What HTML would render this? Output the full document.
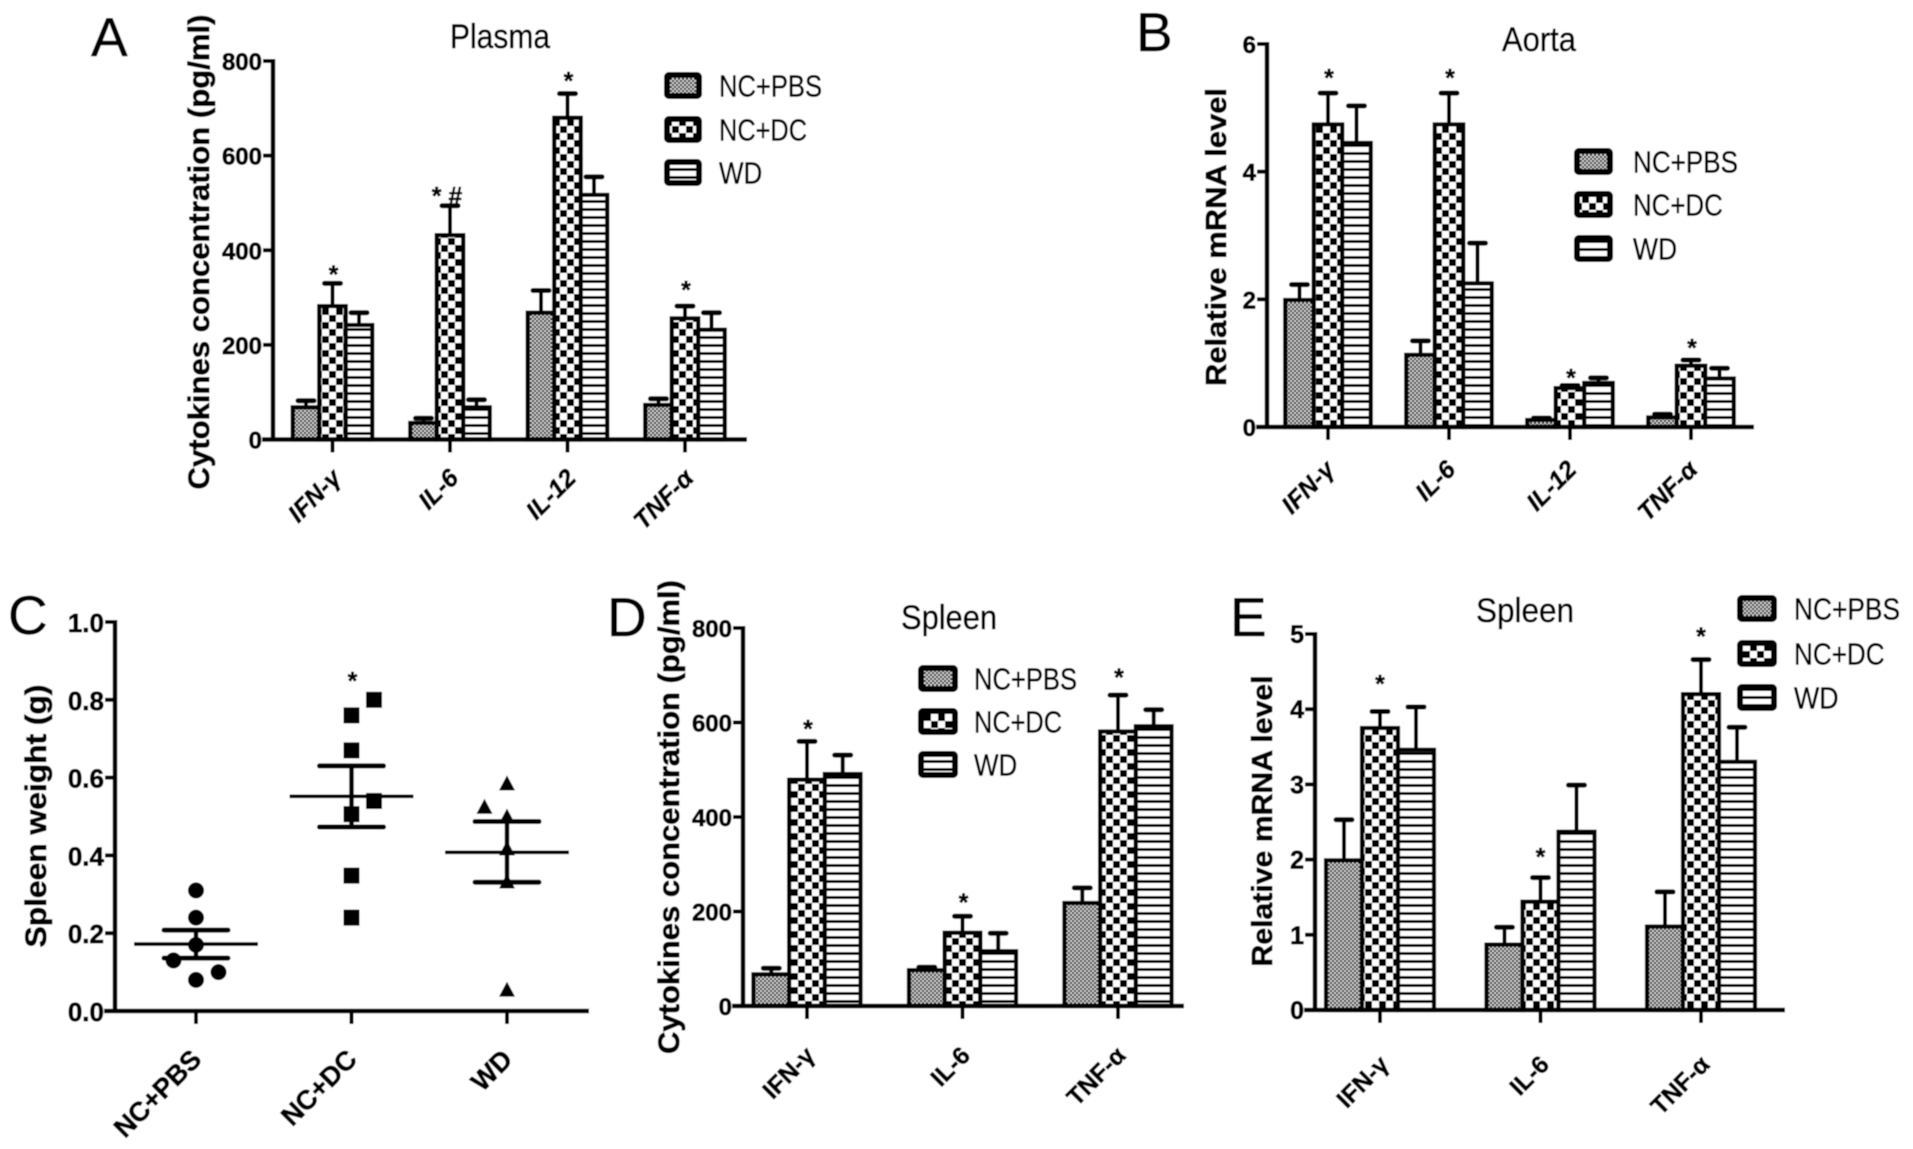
<!DOCTYPE html>
<html lang="en">
<head>
<meta charset="utf-8">
<title>Cytokine and spleen measurements</title>
<style>
html,body{margin:0;padding:0;background:#fff;width:1913px;height:1149px;overflow:hidden}
svg{display:block}
text{font-family:"Liberation Sans",sans-serif;fill:#000;stroke:#000;stroke-width:.5}
.tick{font-weight:bold;stroke-width:.7}
.ytitle{font-weight:bold;stroke-width:.7}
.cat{font-weight:bold;stroke-width:.7}
.catit{font-weight:bold;font-style:italic;stroke-width:.7}
.mark{font-weight:bold}
</style>
</head>
<body>
<svg id="fig" xmlns="http://www.w3.org/2000/svg" width="1913" height="1149" viewBox="0 0 1913 1149">
<defs>
<pattern id="p-pbs" patternUnits="userSpaceOnUse" width="4" height="4"><rect width="4" height="4" fill="#d4d4d4"/><rect width="2" height="2" fill="#000"/><rect x="2" y="2" width="2" height="2" fill="#000"/></pattern>
<pattern id="p-dc" patternUnits="userSpaceOnUse" width="14" height="14"><rect width="14" height="14" fill="#fff"/><rect width="7" height="7" fill="#000"/><rect x="7" y="7" width="7" height="7" fill="#000"/></pattern>
<pattern id="p-wd" patternUnits="userSpaceOnUse" width="8" height="8"><rect width="8" height="8" fill="#fff"/><rect width="8" height="3" fill="#000"/></pattern>
<filter id="soft" x="0" y="0" width="1" height="1" filterUnits="objectBoundingBox"><feGaussianBlur stdDeviation="0.6"/></filter>
</defs>
<g id="root" filter="url(#soft)">
<rect x="0" y="0" width="1913" height="1149" fill="#fff"/>
<text x="91" y="56" font-size="55">A</text>
<text x="1136" y="51" font-size="55">B</text>
<text x="8" y="634" font-size="55">C</text>
<text x="607" y="636" font-size="55">D</text>
<text x="1230" y="636" font-size="55">E</text>
</g>
</svg>
<script>
// Shared labels
const seriesNames = ['NC+PBS', 'NC+DC', 'WD'];
const cytokinesFour = ['IFN-γ', 'IL-6', 'IL-12', 'TNF-α'];
const cytokinesThree = ['IFN-γ', 'IL-6', 'TNF-α'];

// Panel A – Plasma
const aTicks = [0, 200, 400, 600, 800];
const aPbs = [68, 35, 268, 73];
const aPbsTop = [82, 45, 315, 86];
const aDc = [282, 432, 680, 256];
const aDcTop = [330, 494, 731, 282];
const aWd = [242, 68, 517, 232];
const aWdTop = [268, 84, 555, 268];
const aMarks = ['*', '* #', '*', '*'];
const aMarkValues = [362, 528, 771, 330];

// Panel B – Aorta
const bTicks = [0, 2, 4, 6];
const bPbs = [1.99, 1.13, 0.11, 0.15];
const bPbsTop = [2.23, 1.35, 0.14, 0.2];
const bDc = [4.74, 4.74, 0.61, 0.96];
const bDcTop = [5.23, 5.23, 0.65, 1.05];
const bWd = [4.45, 2.25, 0.69, 0.76];
const bWdTop = [5.03, 2.88, 0.77, 0.92];
const bMarks = ['*', '*', '*', '*'];
const bMarkValues = [5.57, 5.57, 0.87, 1.34];

// Panel C – Spleen weight scatter
const cTicks = ['0.0', '0.2', '0.4', '0.6', '0.8', '1.0'];
const cPbsPoints = [0.31, 0.24, 0.17, 0.13, 0.10, 0.08];
const cPbsSlots = [0, 0, 0, -1, 1, 0];
const cDcPoints = [0.80, 0.76, 0.67, 0.54, 0.506, 0.348, 0.24];
const cDcSlots = [1, 0, 0, 1, 0, 0, 0];
const cWdPoints = [0.585, 0.525, 0.50, 0.418, 0.333, 0.055];
const cWdSlots = [0, -1, 0, 0, 0, 0];
const cMeans = [0.172, 0.552, 0.408];
const cErrLow = [0.136, 0.473, 0.331];
const cErrHigh = [0.208, 0.63, 0.487];
const cMarkValue = 0.865;

// Panel D – Spleen cytokines
const dTicks = [0, 200, 400, 600, 800];
const dPbs = [67, 76, 218];
const dPbsTop = [80, 82, 250];
const dDc = [479, 155, 581];
const dDcTop = [560, 190, 658];
const dWd = [491, 116, 592];
const dWdTop = [531, 154, 627];
const dMarks = ['*', '*', '*'];
const dMarkValues = [600, 233, 709];

// Panel E – Spleen mRNA
const eTicks = [0, 1, 2, 3, 4, 5];
const ePbs = [1.99, 0.87, 1.11];
const ePbsTop = [2.53, 1.10, 1.57];
const eDc = [3.75, 1.44, 4.2];
const eDcTop = [3.97, 1.76, 4.66];
const eWd = [3.46, 2.37, 3.3];
const eWdTop = [4.03, 2.99, 3.76];
const eMarks = ['*', '*', '*'];
const eMarkValues = [4.42, 2.12, 5.05];

const NS = 'http://www.w3.org/2000/svg';
const root = document.getElementById('root');
const patterns = ['url(#p-pbs)', 'url(#p-dc)', 'url(#p-wd)'];
const slugs = ['nc-pbs', 'nc-dc', 'wd'];

function add(parent, tag, attrs, content) {
  const el = document.createElementNS(NS, tag);
  for (const k in attrs) el.setAttribute(k, attrs[k]);
  if (content !== undefined) el.textContent = content;
  parent.appendChild(el);
  return el;
}
function slug(s) {
  return String(s).toLowerCase().replace('γ', 'gamma').replace('α', 'alpha').replace(/[^a-z0-9]+/g, '-');
}

function drawFrame(g, f, ticks, cats, prefix) {
  const yMax = Number(ticks[ticks.length - 1]);
  const yS = v => f.y0 - (v / yMax) * (f.y0 - f.yTop);
  const xS = i => f.first + i * f.step;

  const yAxis = add(g, 'line', {x1: f.ax, x2: f.ax, y1: f.yTop - 2, y2: f.y0, stroke: '#000', 'stroke-width': 4.5});
  
  
  const xAxis = add(g, 'line', {x1: f.ax - 11, x2: f.xEnd, y1: f.y0, y2: f.y0, stroke: '#000', 'stroke-width': 4.5});
  
  

  ticks.forEach(t => {
    const y = yS(Number(t));
    const tk = add(g, 'line', {x1: f.ax - 10, x2: f.ax, y1: y, y2: y, stroke: '#000', 'stroke-width': 4});
    
    
    const lab = add(g, 'text', {x: f.ax - 11, y: y + f.tickDy, 'text-anchor': 'end', class: 'tick', 'font-size': f.tickSize}, String(t));
    
    
  });

  cats.forEach((c, i) => {
    const x = xS(i);
    const tk = add(g, 'line', {x1: x, x2: x, y1: f.y0, y2: f.y0 + 13, stroke: '#000', 'stroke-width': 4});
    
    
    const ex = x + f.catDx, ey = f.y0 + f.catDy;
    const lab = add(g, 'text', {x: ex, y: ey, 'text-anchor': 'end', class: f.catClass, 'font-size': f.catSize, transform: 'rotate(-45 ' + ex + ' ' + ey + ')'}, c);
    
    
  });

  const yt = f.yTitle;
  const title = add(g, 'text', {x: 0, y: 0, class: 'ytitle', 'font-size': yt.size, 'text-anchor': 'middle', textLength: yt.len, lengthAdjust: 'spacingAndGlyphs', transform: 'translate(' + yt.x + ' ' + yt.y + ') rotate(-90)'}, yt.text);
  
  
  return {xS, yS};
}

function drawTitle(g, t, prefix) {
  const el = add(g, 'text', {x: t.x, y: t.y, 'text-anchor': 'middle', 'font-size': 34, textLength: t.len, lengthAdjust: 'spacingAndGlyphs'}, t.text);
  
  
}

function drawLegend(g, l, prefix) {
  seriesNames.forEach((n, i) => {
    const y = l.ys[i];
    const sw = add(g, 'rect', {x: l.x + 3, y: y + 3, width: l.w - 6, height: 21, rx: 2, fill: patterns[i], stroke: '#000', 'stroke-width': 6});
    
    
    const natural = [l.len, l.len * 0.855, l.len * 0.42][i];
    const tx = add(g, 'text', {x: l.tx, y: y + 24.5, 'font-size': 31, textLength: natural, lengthAdjust: 'spacingAndGlyphs'}, n);
    
    
  });
}

function drawBars(prefix, f, ticks, cats, vals, tops, marks, markVals) {
  const g = add(root, 'g', {});
  
  
  const yMax = Number(ticks[ticks.length - 1]);
  const yS = v => f.y0 - (v / yMax) * (f.y0 - f.yTop);
  const xS = i => f.first + i * f.step;

  vals.forEach((series, s) => {
    series.forEach((v, i) => {
      const cx = xS(i) + (s - 1) * f.barW;
      const line = add(g, 'line', {x1: cx, x2: cx, y1: yS(v), y2: yS(tops[s][i]), stroke: '#000', 'stroke-width': 4});
      
      
      const cap = add(g, 'line', {x1: cx - 8, x2: cx + 8, y1: yS(tops[s][i]), y2: yS(tops[s][i]), stroke: '#000', 'stroke-width': 5, 'stroke-linecap': 'round'});
      
      
    });
  });
  vals.forEach((series, s) => {
    series.forEach((v, i) => {
      const cx = xS(i) + (s - 1) * f.barW;
      const bar = add(g, 'rect', {x: cx - f.barW / 2, y: yS(v), width: f.barW, height: f.y0 - yS(v), fill: patterns[s], stroke: '#000', 'stroke-width': 4.2});
      
      
    });
  });
  marks.forEach((m, i) => {
    const nudge = m.length > 1 ? -4 : 0;
    const mk = add(g, 'text', {x: xS(i) + f.markDx + nudge, y: yS(markVals[i]) + 15, 'text-anchor': 'middle', class: 'mark', 'font-size': 25}, m);
    
    
  });
  drawFrame(g, f, ticks, cats, prefix);
  drawTitle(g, f.title, prefix);
  drawLegend(g, f.legend, prefix);
}

drawBars('a', {
  ax: 273, xEnd: 747, y0: 439.5, yTop: 61, first: 332.5, step: 117.5, barW: 26.5, markDx: 1,
  tickSize: 24, tickDy: 9, catSize: 25, catDx: 10, catDy: 40, catClass: 'catit',
  yTitle: {x: 209, y: 252, len: 475, size: 30, text: 'Cytokines concentration (pg/ml)'},
  title: {x: 500, y: 48, len: 100, text: 'Plasma'},
  legend: {x: 664, w: 38, ys: [72, 116, 159], tx: 719, len: 103}
}, aTicks, cytokinesFour, [aPbs, aDc, aWd], [aPbsTop, aDcTop, aWdTop], aMarks, aMarkValues);

drawBars('b', {
  ax: 1267, xEnd: 1754, y0: 427, yTop: 44, first: 1328, step: 121, barW: 28.5, markDx: 1,
  tickSize: 24, tickDy: 9, catSize: 25, catDx: 8, catDy: 44, catClass: 'catit',
  yTitle: {x: 1226, y: 237, len: 298, size: 29, text: 'Relative mRNA level'},
  title: {x: 1539, y: 51, len: 74, text: 'Aorta'},
  legend: {x: 1574, w: 39, ys: [148, 191, 235], tx: 1633, len: 105}
}, bTicks, cytokinesFour, [bPbs, bDc, bWd], [bPbsTop, bDcTop, bWdTop], bMarks, bMarkValues);

drawBars('d', {
  ax: 743, xEnd: 1184, y0: 1006, yTop: 628, first: 807, step: 155.5, barW: 35.7, markDx: 1,
  tickSize: 24, tickDy: 9, catSize: 24.5, catDx: 9, catDy: 51, catClass: 'cat',
  yTitle: {x: 679, y: 817, len: 474, size: 30, text: 'Cytokines concentration (pg/ml)'},
  title: {x: 949, y: 629, len: 96, text: 'Spleen'},
  legend: {x: 918, w: 40, ys: [665, 708, 751], tx: 974, len: 103}
}, dTicks, cytokinesThree, [dPbs, dDc, dWd], [dPbsTop, dDcTop, dWdTop], dMarks, dMarkValues);

drawBars('e', {
  ax: 1315, xEnd: 1785, y0: 1010, yTop: 634, first: 1380, step: 160.5, barW: 36, markDx: 0,
  tickSize: 25, tickDy: 9, catSize: 24.5, catDx: 10, catDy: 56, catClass: 'cat',
  yTitle: {x: 1272, y: 821, len: 291, size: 29, text: 'Relative mRNA level'},
  title: {x: 1525, y: 622, len: 98, text: 'Spleen'},
  legend: {x: 1737, w: 40, ys: [595, 640, 684], tx: 1794, len: 106}
}, eTicks, cytokinesThree, [ePbs, eDc, eWd], [ePbsTop, eDcTop, eWdTop], eMarks, eMarkValues);

// Panel C scatter
(function drawScatter() {
  const g = add(root, 'g', {});
  
  
  const f = {
    ax: 115, xEnd: 589, y0: 1011, yTop: 622, first: 196, step: 155.5,
    tickSize: 26, tickDy: 10, catSize: 27, catDx: 7, catDy: 50, catClass: 'cat',
    yTitle: {x: 46, y: 816, len: 263, size: 30, text: 'Spleen weight (g)'}
  };
  const fr = drawFrame(g, f, cTicks, seriesNames, 'c');
  const slotW = 22.5;
  const groups = [cPbsPoints, cDcPoints, cWdPoints];
  const slots = [cPbsSlots, cDcSlots, cWdSlots];
  groups.forEach((pts, s) => {
    pts.forEach((v, i) => {
      const x = fr.xS(s) + slots[s][i] * slotW;
      const y = fr.yS(v);
      let el;
      if (s === 0) el = add(g, 'circle', {cx: x, cy: y, r: 8, fill: '#000'});
      else if (s === 1) el = add(g, 'rect', {x: x - 8, y: y - 8, width: 16, height: 16, fill: '#000'});
      else el = add(g, 'polygon', {points: (x - 8) + ',' + (y + 7) + ' ' + (x + 8) + ',' + (y + 7) + ' ' + x + ',' + (y - 8), fill: '#000'});
      
      
    });
    const cx = fr.xS(s);
    const mean = add(g, 'line', {x1: cx - 62, x2: cx + 62, y1: fr.yS(cMeans[s]), y2: fr.yS(cMeans[s]), stroke: '#000', 'stroke-width': 3.6});
    
    
    const stem = add(g, 'line', {x1: cx, x2: cx, y1: fr.yS(cErrLow[s]), y2: fr.yS(cErrHigh[s]), stroke: '#000', 'stroke-width': 4.5});
    
    
    [cErrLow[s], cErrHigh[s]].forEach(v => {
      const cap = add(g, 'line', {x1: cx - 32, x2: cx + 32, y1: fr.yS(v), y2: fr.yS(v), stroke: '#000', 'stroke-width': 5, 'stroke-linecap': 'round'});
      
      
    });
  });
  const star = add(g, 'text', {x: fr.xS(1) + 1, y: fr.yS(cMarkValue) + 15, 'text-anchor': 'middle', class: 'mark', 'font-size': 25}, '*');
  
  
})();
</script>
</body>
</html>
